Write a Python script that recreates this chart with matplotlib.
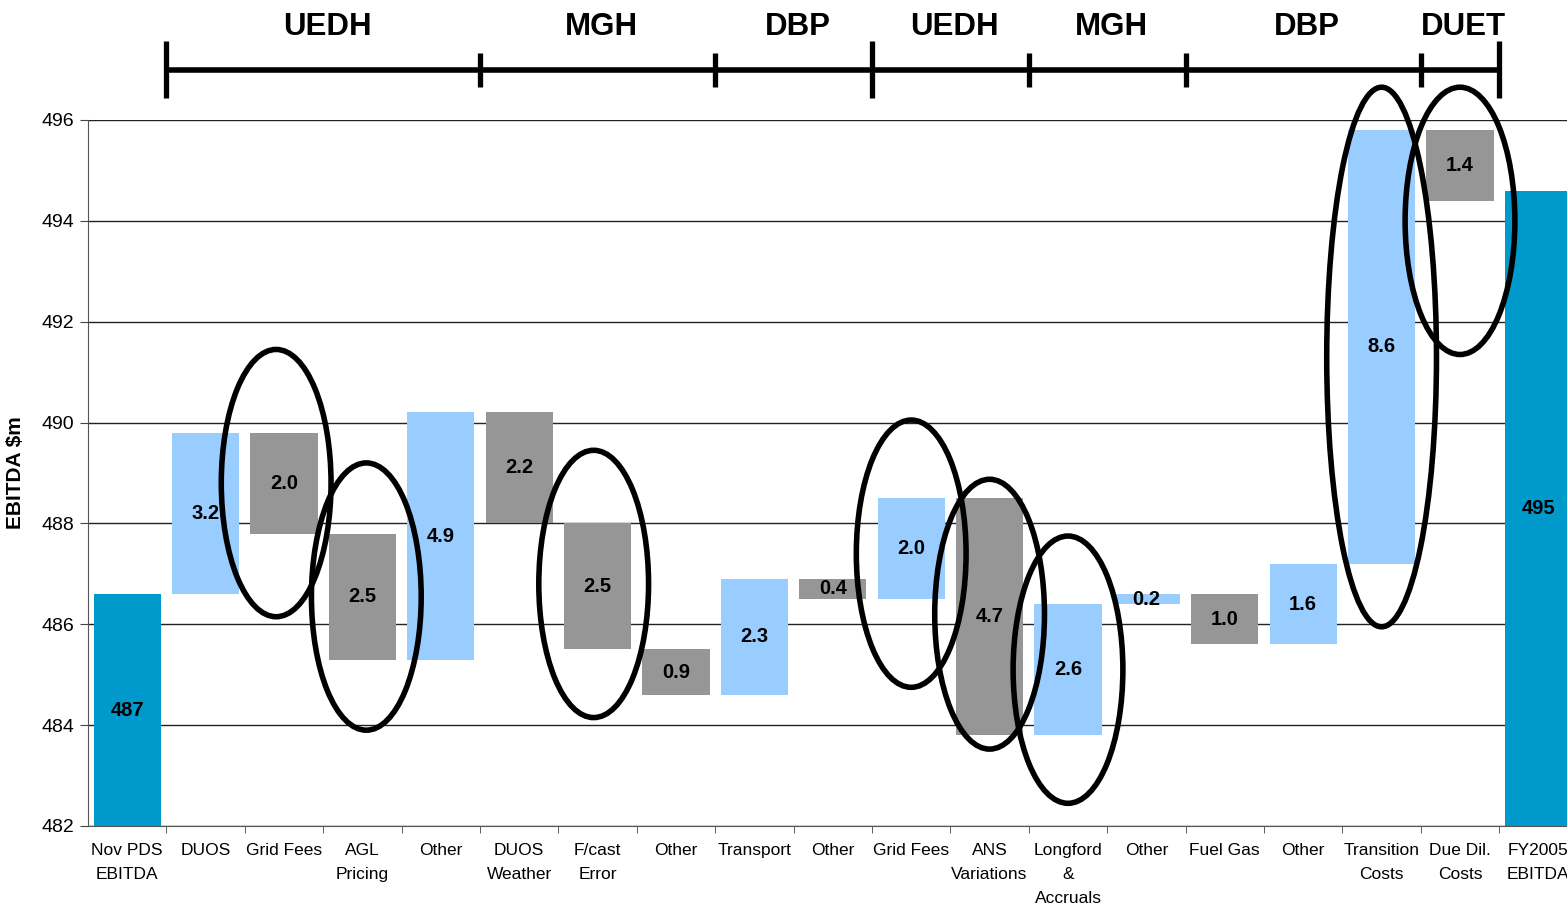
import numpy as np
import matplotlib.pyplot as plt
from matplotlib.patches import Ellipse

plt.rcParams['font.family'] = ['Liberation Sans', 'DejaVu Sans']

# categories and values
labels = ["Nov PDS\nEBITDA", "DUOS", "Grid Fees", "AGL\nPricing", "Other",
          "DUOS\nWeather", "F/cast\nError", "Other", "Transport", "Other",
          "Grid Fees", "ANS\nVariations", "Longford\n&\nAccruals", "Other",
          "Fuel Gas", "Other", "Transition\nCosts", "Due Dil.\nCosts",
          "FY2005\nEBITDA"]
start_total = 486.6
end_total = 494.6
deltas = [3.2, -2.0, -2.5, 4.9, -2.2, -2.5, -0.9, 2.3, -0.4, 2.0, -4.7,
          2.6, 0.2, -1.0, 1.6, 8.6, -1.4]
total_labels = ["487", "495"]

# business groups along the top bracket
groups = ["UEDH", "MGH", "DBP", "UEDH", "MGH", "DBP", "DUET"]
group_edges = [0.5, 4.5, 7.5, 9.5, 11.5, 13.5, 16.5, 17.5]

# circled bars: (category index, centre y, height)
circles = [(1.9, 488.8, 5.3), (3.05, 486.55, 5.3), (5.95, 486.8, 5.3),
           (10.0, 487.4, 5.3), (11.0, 486.2, 5.35), (12.0, 485.1, 5.3),
           (16.0, 491.3, 10.7), (17.0, 494.0, 5.3)]

c_total = "#0099CC"
c_up = "#99CCFF"
c_down = "#969696"

fig = plt.figure(figsize=(15.67, 9.08), dpi=100)
ax = fig.add_axes([88 / 1567, 82 / 908, 1489.6 / 1567, 706 / 908])

x = np.arange(len(labels))
w = 0.855

# totals
ax.bar(x[0], start_total - 482, bottom=482, width=w, color=c_total, zorder=2)
ax.bar(x[-1], end_total - 482, bottom=482, width=w, color=c_total, zorder=2)
ax.text(x[0], 484.3, total_labels[0], ha="center", va="center",
        fontsize=14.5, fontweight="bold")
ax.text(x[-1], 488.3, total_labels[1], ha="center", va="center",
        fontsize=14.5, fontweight="bold")

level = start_total
for i, d in enumerate(deltas):
    xi = x[i + 1]
    lo = min(level, level + d)
    hi = max(level, level + d)
    col = c_up if d > 0 else c_down
    ax.bar(xi, hi - lo, bottom=lo, width=w, color=col, zorder=2)
    ax.text(xi, (lo + hi) / 2, "%.1f" % abs(d), ha="center", va="center",
            fontsize=14.5, fontweight="bold", zorder=5)
    level += d

# ellipses
for cx, cy, h in circles:
    e = Ellipse((cx, cy), 1.4, h, fill=False, ec="black", lw=4,
                zorder=6, clip_on=False)
    ax.add_patch(e)

# top bracket
ax.plot([group_edges[0], group_edges[-1]], [497.0, 497.0], color="black",
        lw=4, clip_on=False, solid_capstyle="butt")
for j, g in enumerate(group_edges):
    long_tick = j in (0, 3, len(group_edges) - 1)
    y0, y1 = (496.44, 497.56) if long_tick else (496.66, 497.32)
    ax.plot([g, g], [y0, y1], color="black", lw=3.8, clip_on=False,
            solid_capstyle="butt")
for j, name in enumerate(groups):
    cx = (group_edges[j] + group_edges[j + 1]) / 2 + 0.05
    ax.text(cx, 497.84, name, ha="center", va="center", fontsize=22.5,
            fontweight="bold", clip_on=False)

ax.set_xlim(-0.5, len(labels) - 0.5)
ax.set_ylim(482, 496)
ax.set_yticks(np.arange(482, 497, 2))
ax.set_xticks(x)
ax.set_xticklabels(labels, fontsize=12.5, linespacing=1.75)
ax.set_xticks(np.arange(0.5, len(labels) - 0.5, 1), minor=True)
ax.tick_params(axis="x", which="major", length=0, pad=12)
ax.tick_params(axis="x", which="minor", length=5, color="#444444")
ax.tick_params(axis="y", labelsize=14, length=6, color="#444444", pad=4)
ax.yaxis.grid(True, color="#222222", lw=1)
ax.set_axisbelow(True)
for s in ["top", "right"]:
    ax.spines[s].set_visible(False)
ax.spines["left"].set_color("#555555")
ax.spines["bottom"].set_color("#555555")
ax.set_ylabel("EBITDA $m", fontsize=15, fontweight="bold", labelpad=12)

fig.savefig("out.png", dpi=100)
